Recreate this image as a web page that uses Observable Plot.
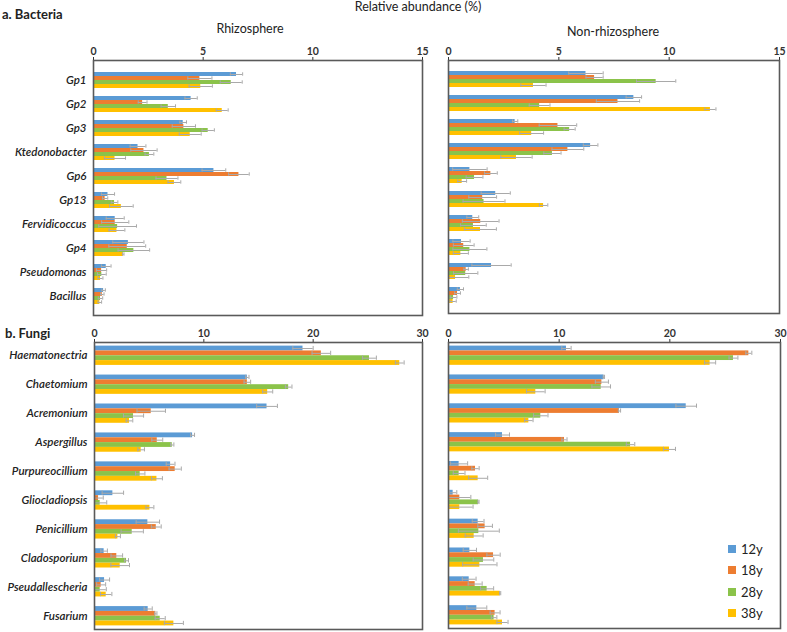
<!DOCTYPE html>
<html>
<head>
<meta charset="utf-8">
<script src="https://cdn.jsdelivr.net/npm/d3@7"></script>
<script src="https://cdn.jsdelivr.net/npm/@observablehq/plot@0.6"></script>
<style>
  html, body { margin: 0; padding: 0; background: #fff; }
  #root { position: relative; width: 787px; height: 632px; font-family: Lato, "Open Sans", sans-serif; color: #222; overflow: hidden; }
  .abs { position: absolute; white-space: nowrap; }
  .title { font-size: 12.5px; line-height: 14px; transform: translateX(-50%); }
  .section { font-size: 13px; font-weight: bold; line-height: 16px; }
  .legend-row { display: flex; align-items: center; height: 21.5px; font-size: 13px; }
  .legend-sw { width: 8px; height: 8px; margin-right: 5px; }
</style>
</head>
<body>
<div id="root"></div>
<script>
// ---------- data ----------
const seriesNames = ["12y", "18y", "28y", "38y"];
const seriesColors = ["#5B9BD5", "#ED7D31", "#8BC34A", "#FFC000"];

const bacteriaCats = ["Gp1", "Gp2", "Gp3", "Ktedonobacter", "Gp6", "Gp13", "Fervidicoccus", "Gp4", "Pseudomonas", "Bacillus"];
const fungiCats = ["Haematonectria", "Chaetomium", "Acremonium", "Aspergillus", "Purpureocillium", "Gliocladiopsis", "Penicillium", "Cladosporium", "Pseudallescheria", "Fusarium"];

const bacTicks = [0, 5, 10, 15];
const fungiTicks = [0, 10, 20, 30];

// Bacteria, rhizosphere
const bacRhizo12 = [6.52, 4.45, 4.09, 2.03, 5.49, 0.66, 0.99, 1.59, 0.58, 0.46];
const bacRhizo12Err = [0.28, 0.28, 0.15, 0.36, 0.54, 0.30, 0.41, 0.71, 0.22, 0.08];
const bacRhizo18 = [4.85, 2.24, 4.12, 2.30, 6.63, 0.53, 0.99, 1.54, 0.37, 0.40];
const bacRhizo18Err = [0.55, 0.20, 0.53, 0.60, 0.47, 0.12, 0.62, 0.84, 0.23, 0.08];
const bacRhizo28 = [6.28, 3.41, 5.23, 2.55, 3.35, 0.96, 1.10, 1.84, 0.38, 0.32];
const bacRhizo28Err = [0.50, 0.33, 0.28, 0.20, 0.50, 0.15, 0.86, 0.72, 0.20, 0.10];
const bacRhizo38 = [4.89, 5.87, 4.41, 0.98, 3.69, 1.27, 1.07, 1.36, 0.32, 0.29];
const bacRhizo38Err = [0.53, 0.27, 0.50, 0.48, 0.29, 0.54, 0.36, 0.03, 0.11, 0.08];

// Bacteria, non-rhizosphere
const bacNon12 = [6.23, 8.40, 3.02, 6.44, 0.97, 2.14, 1.10, 0.59, 1.95, 0.54];
const bacNon12Err = [0.78, 0.35, 0.12, 0.33, 0.78, 0.66, 0.27, 0.39, 0.89, 0.14];
const bacNon18 = [6.62, 7.68, 4.96, 5.41, 1.92, 1.55, 1.46, 0.69, 0.80, 0.41];
const bacNon18Err = [0.39, 0.98, 0.85, 0.72, 0.29, 0.63, 0.83, 0.47, 0.10, 0.13];
const bacNon28 = [9.41, 4.13, 5.49, 4.71, 1.18, 1.61, 1.13, 0.97, 0.78, 0.23];
const bacNon28Err = [0.89, 0.47, 0.25, 0.39, 0.38, 0.95, 0.58, 0.77, 0.55, 0.15];
const bacNon38 = [3.85, 11.87, 3.77, 3.08, 0.62, 4.31, 1.45, 0.56, 0.32, 0.21];
const bacNon38Err = [0.57, 0.25, 0.54, 0.71, 0.20, 0.19, 0.72, 0.34, 0.60, 0.14];

// Fungi, rhizosphere
const funRhizo12 = [19.07, 13.98, 15.78, 8.97, 6.96, 1.68, 4.88, 0.88, 0.92, 4.91];
const funRhizo12Err = [0.93, 0.15, 0.95, 0.18, 0.40, 0.98, 1.07, 0.30, 0.46, 0.37];
const funRhizo18 = [20.75, 13.98, 5.19, 5.74, 7.38, 0.37, 5.65, 2.04, 0.61, 5.61];
const funRhizo18Err = [0.85, 0.30, 1.30, 0.50, 0.56, 0.43, 0.45, 0.53, 0.41, 0.10];
const funRhizo28 = [25.15, 17.76, 3.57, 7.11, 4.18, 0.52, 3.45, 2.93, 0.52, 6.01];
const funRhizo28Err = [0.63, 0.30, 0.92, 0.15, 0.43, 0.60, 1.02, 0.18, 0.56, 0.46];
const funRhizo38 = [27.92, 15.84, 3.20, 4.27, 5.71, 5.07, 2.14, 2.35, 1.07, 7.26];
const funRhizo38Err = [0.40, 0.46, 0.30, 0.30, 0.50, 0.36, 0.23, 0.85, 0.52, 0.87];

// Fungi, non-rhizosphere
const funNon12 = [10.66, 14.04, 21.48, 4.88, 0.96, 0.42, 2.68, 1.93, 1.87, 2.56];
const funNon12Err = [0.42, 0.06, 0.93, 0.63, 0.77, 0.33, 0.53, 0.60, 0.62, 0.90];
const funNon18 = [27.14, 13.86, 15.45, 10.48, 2.44, 1.02, 3.31, 4.07, 2.41, 4.21];
const funNon18Err = [0.27, 0.59, 0.10, 0.23, 0.33, 1.00, 0.66, 0.60, 0.63, 0.45];
const funNon28 = [25.75, 13.80, 8.34, 16.45, 0.96, 2.71, 2.74, 3.16, 3.49, 4.12];
const funNon28Err = [0.40, 0.84, 0.65, 0.38, 0.53, 0.05, 1.85, 0.93, 0.59, 0.25];
const funNon38 = [23.64, 7.89, 7.26, 19.97, 2.68, 1.02, 2.32, 2.83, 4.67, 4.88];
const funNon38Err = [0.50, 0.84, 0.38, 0.54, 0.86, 1.20, 0.81, 1.55, 0.05, 0.50];

// ---------- drawing ----------
const root = document.getElementById("root");

function addText(text, cls, css) {
  const d = document.createElement("div");
  d.className = "abs " + cls;
  d.textContent = text;
  Object.assign(d.style, css);
  root.appendChild(d);
  return d;
}

const PAD_OUTER = 0.75;

function panel({cats, vals, errs, ticks, left, top, width, height, ml, mr, mt, mb, labels}) {
  const rows = [];
  cats.forEach((c, i) => seriesNames.forEach((s, j) => {
    rows.push({cat: c, series: s, key: c + "|" + s, v: vals[j][i], e: errs[j][i]});
  }));
  const keys = cats.flatMap((c, i) => [
    ...seriesNames.map(s => c + "|" + s),
    ...(i < cats.length - 1 ? [c + "|gapA", c + "|gapB"] : [])
  ]);
  const step = (height - mt - mb) / (keys.length + 2 * PAD_OUTER);
  const errColor = "#a9a9a9";
  const marks = [
    Plot.barX(rows, {x: "v", y: "key", fill: "series"}),
    Plot.ruleY(rows, {y: "key", x1: d => Math.max(0, d.v - d.e), x2: d => d.v + d.e, stroke: errColor, strokeWidth: 1}),
    Plot.tickX(rows, {x: d => Math.max(0, d.v - d.e), y: "key", stroke: errColor, strokeWidth: 1, insetTop: 0.3, insetBottom: 0.3}),
    Plot.tickX(rows, {x: d => d.v + d.e, y: "key", stroke: errColor, strokeWidth: 1, insetTop: 0.3, insetBottom: 0.3}),
    Plot.frame({stroke: "#5a5a5a", strokeWidth: 1.6})
  ];
  if (labels) {
    marks.push(Plot.text(cats, {
      y: c => c + "|" + seriesNames[1], text: d => d,
      frameAnchor: "left", textAnchor: "end", dx: -7, dy: step / 2,
      fontSize: 11.5, fontStyle: "italic", fontWeight: 600, fill: "#222"
    }));
  }
  const chart = Plot.plot({
    width, height,
    marginLeft: ml, marginRight: mr, marginTop: mt, marginBottom: mb,
    style: {fontFamily: "Lato, 'Open Sans', sans-serif", fontSize: "10.5px", fontWeight: "bold", color: "#333", background: "transparent", overflow: "visible"},
    x: {domain: [ticks[0], ticks[ticks.length - 1]], axis: "top", ticks, tickSize: 4, tickPadding: 2, label: null},
    y: {domain: keys, axis: null, paddingInner: 0, paddingOuter: PAD_OUTER},
    color: {domain: seriesNames, range: seriesColors},
    marks
  });
  const wrap = document.createElement("div");
  wrap.className = "abs";
  wrap.style.left = left + "px";
  wrap.style.top = top + "px";
  wrap.appendChild(chart);
  root.appendChild(wrap);
}

panel({cats: bacteriaCats,
  vals: [bacRhizo12, bacRhizo18, bacRhizo28, bacRhizo38],
  errs: [bacRhizo12Err, bacRhizo18Err, bacRhizo28Err, bacRhizo38Err],
  ticks: bacTicks, left: 0, top: 40, width: 430, height: 278, ml: 93, mr: 8, mt: 20, mb: 3, labels: true});

panel({cats: bacteriaCats,
  vals: [bacNon12, bacNon18, bacNon28, bacNon38],
  errs: [bacNon12Err, bacNon18Err, bacNon28Err, bacNon38Err],
  ticks: bacTicks, left: 440, top: 40, width: 345, height: 276, ml: 8, mr: 6, mt: 20, mb: 3, labels: false});

panel({cats: fungiCats,
  vals: [funRhizo12, funRhizo18, funRhizo28, funRhizo38],
  errs: [funRhizo12Err, funRhizo18Err, funRhizo28Err, funRhizo38Err],
  ticks: fungiTicks, left: 0, top: 322, width: 430, height: 310, ml: 94, mr: 8, mt: 20, mb: 3, labels: true});

panel({cats: fungiCats,
  vals: [funNon12, funNon18, funNon28, funNon38],
  errs: [funNon12Err, funNon18Err, funNon28Err, funNon38Err],
  ticks: fungiTicks, left: 440, top: 322, width: 346, height: 309, ml: 8, mr: 6, mt: 20, mb: 3, labels: false});

// titles
addText("Relative abundance (%)", "title", {left: "418px", top: "0px"});
addText("a. Bacteria", "section", {left: "2px", top: "6px"});
addText("Rhizosphere", "title", {left: "250px", top: "22px"});
addText("Non-rhizosphere", "title", {left: "613px", top: "25px"});
addText("b. Fungi", "section", {left: "5px", top: "325px"});

// legend
const legend = document.createElement("div");
legend.className = "abs";
legend.style.left = "728px";
legend.style.top = "538px";
seriesNames.forEach((s, i) => {
  const row = document.createElement("div");
  row.className = "legend-row";
  const sw = document.createElement("div");
  sw.className = "legend-sw";
  sw.style.background = seriesColors[i];
  const t = document.createElement("span");
  t.textContent = s;
  row.appendChild(sw);
  row.appendChild(t);
  legend.appendChild(row);
});
root.appendChild(legend);
</script>
</body>
</html>
